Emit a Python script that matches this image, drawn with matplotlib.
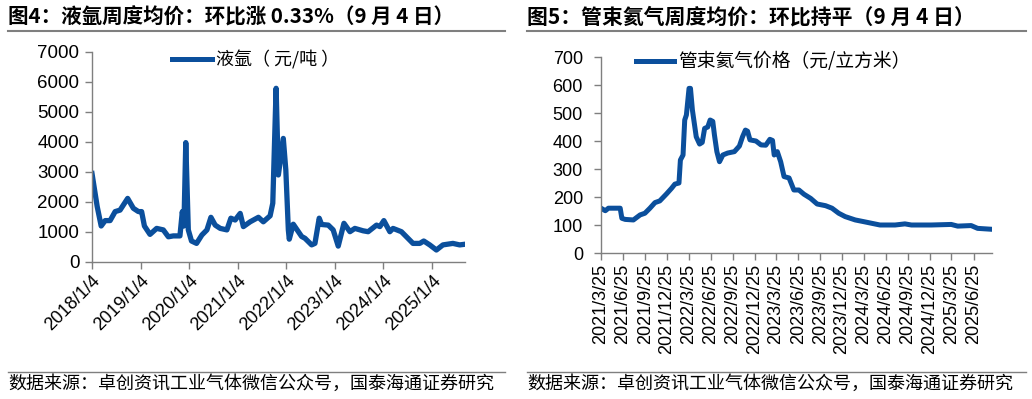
import matplotlib.pyplot as plt
import matplotlib.dates as mdates
from matplotlib.ticker import FuncFormatter
from matplotlib.lines import Line2D
import numpy as np
import pandas as pd

plt.rcParams['font.family'] = ['Liberation Sans', 'Noto Sans CJK SC', 'DejaVu Sans']

# liquid argon weekly average price (yuan/ton)
argon_dates = ['2018-01-04', '2018-02-12', '2018-03-14', '2018-04-13', '2018-05-20', '2018-06-27',
               '2018-08-03', '2018-09-29', '2018-11-11', '2018-12-19', '2019-01-12', '2019-02-02',
               '2019-03-16', '2019-05-05', '2019-06-24', '2019-08-01', '2019-09-07', '2019-10-27',
               '2019-11-14', '2019-11-26', '2019-12-10', '2019-12-29', '2020-01-22', '2020-02-29',
               '2020-04-09', '2020-05-17', '2020-06-16', '2020-07-18', '2020-08-25', '2020-10-14',
               '2020-11-13', '2020-12-15', '2021-01-22', '2021-02-15', '2021-04-07', '2021-06-08',
               '2021-07-15', '2021-09-04', '2021-09-24', '2021-10-19', '2021-11-05', '2021-12-12',
               '2021-12-31', '2022-01-19', '2022-01-26', '2022-02-25', '2022-04-29', '2022-05-24',
               '2022-07-13', '2022-08-07', '2022-09-08', '2022-09-26', '2022-11-15', '2022-12-22',
               '2023-01-29', '2023-03-13', '2023-04-27', '2023-06-03', '2023-08-04', '2023-09-11',
               '2023-11-13', '2023-12-08', '2024-01-07', '2024-02-21', '2024-03-16', '2024-05-18',
               '2024-06-25', '2024-08-13', '2024-10-03', '2024-11-02', '2024-12-17', '2025-02-05',
               '2025-03-26', '2025-06-09', '2025-07-30', '2025-09-04']
argon_price = [2950, 1850, 1200, 1380, 1380, 1680,
               1730, 2120, 1790, 1680, 1680, 1200,
               920, 1120, 1070, 840, 870, 870,
               1680, 1200, 3980, 1070, 700, 620,
               900, 1070, 1490, 1230, 1120, 1070,
               1460, 1400, 1620, 1180, 1340, 1490,
               1340, 1540, 1960, 5790, 2900, 4120,
               3070, 1070, 760, 1260, 850, 790,
               570, 620, 1460, 1250, 1230, 1070,
               530, 1290, 1010, 1120, 1040, 1010,
               1230, 1180, 1380, 1010, 1120, 1010,
               840, 620, 620, 700, 570, 400,
               570, 620, 570, 590]

# tube-trailer helium weekly average price (yuan/m3)
helium_dates = ['2021-03-25', '2021-04-12', '2021-04-25', '2021-06-13', '2021-06-20', '2021-07-04',
                '2021-08-07', '2021-09-04', '2021-09-24', '2021-10-15', '2021-11-05', '2021-11-25',
                '2021-12-23', '2022-01-13', '2022-01-27', '2022-02-13', '2022-02-19', '2022-03-02',
                '2022-03-09', '2022-03-16', '2022-03-27', '2022-04-02', '2022-04-10', '2022-04-26',
                '2022-05-10', '2022-05-21', '2022-05-31', '2022-06-13', '2022-06-23', '2022-07-04',
                '2022-07-11', '2022-07-21', '2022-08-01', '2022-08-15', '2022-09-04', '2022-10-02',
                '2022-10-23', '2022-11-05', '2022-11-17', '2022-11-26', '2022-12-06', '2022-12-31',
                '2023-01-21', '2023-02-10', '2023-02-27', '2023-03-10', '2023-03-17', '2023-03-30',
                '2023-04-13', '2023-04-27', '2023-05-18', '2023-06-07', '2023-06-28', '2023-07-19',
                '2023-08-16', '2023-09-12', '2023-10-17', '2023-11-13', '2023-12-11', '2024-01-07',
                '2024-02-18', '2024-03-24', '2024-04-27', '2024-05-31', '2024-08-02', '2024-09-12',
                '2024-10-09', '2024-12-31', '2025-03-24', '2025-04-20', '2025-06-15', '2025-07-12',
                '2025-09-04']
helium_price = [160, 151, 160, 160, 124, 120,
                118, 136, 142, 160, 180, 186,
                211, 231, 246, 250, 332, 350,
                475, 493, 588, 588, 511, 415,
                389, 395, 445, 450, 475, 470,
                421, 362, 326, 350, 357, 362,
                382, 415, 439, 435, 404, 400,
                386, 385, 406, 402, 350, 362,
                326, 273, 268, 225, 225, 210,
                195, 175, 169, 160, 142, 130,
                118, 112, 106, 100, 100, 104,
                100, 100, 102, 96, 98, 88,
                85]

line_color = '#0b4f9c'
axis_color = '#7f7f7f'
cjk = ['Noto Sans CJK SC', 'DejaVu Sans']

fig = plt.figure(figsize=(10.32, 3.99), dpi=100)


def px(x0, y_top, x1, y_bot):
    # pixel box -> figure fraction rect
    return [x0 / 1032, 1 - y_bot / 399, (x1 - x0) / 1032, (y_bot - y_top) / 399]


def style_axes(ax):
    for s in ['top', 'right']:
        ax.spines[s].set_visible(False)
    for s in ['left', 'bottom']:
        ax.spines[s].set_color(axis_color)
        ax.spines[s].set_linewidth(1.0)
    ax.tick_params(axis='both', colors=axis_color, length=5, width=1.0, labelcolor='black')


def date_label(x, pos):
    d = mdates.num2date(x)
    return f'{d.year}/{d.month}/{d.day}'


# ---- left: liquid argon
ax1 = fig.add_axes(px(92, 52, 465, 262))
ax1.plot(pd.to_datetime(argon_dates), argon_price, color=line_color, lw=3.8, solid_joinstyle='round')
ax1.set_ylim(0, 7000)
ax1.set_yticks(np.arange(0, 7001, 1000))
ax1.set_xlim(pd.Timestamp('2018-01-04'), pd.Timestamp('2025-09-08'))
ax1.xaxis.set_major_locator(mdates.MonthLocator(bymonth=1, bymonthday=4))
ax1.xaxis.set_major_formatter(FuncFormatter(date_label))
style_axes(ax1)
ax1.tick_params(axis='y', labelsize=13.5, pad=4)
ax1.tick_params(axis='x', labelsize=13, pad=2)
for lab in ax1.get_xticklabels():
    lab.set_rotation(45)
    lab.set_ha('right')
    lab.set_rotation_mode('anchor')

# ---- right: helium
ax2 = fig.add_axes(px(601, 57, 992, 253))
ax2.plot(pd.to_datetime(helium_dates), helium_price, color=line_color, lw=3.6, solid_joinstyle='round')
ax2.set_ylim(0, 700)
ax2.set_yticks(np.arange(0, 701, 100))
ax2.set_xlim(pd.Timestamp('2021-03-25'), pd.Timestamp('2025-09-10'))
ax2.xaxis.set_major_locator(mdates.MonthLocator(bymonth=[3, 6, 9, 12], bymonthday=25))
ax2.xaxis.set_major_formatter(FuncFormatter(date_label))
style_axes(ax2)
ax2.tick_params(axis='y', labelsize=13, pad=8)
ax2.tick_params(axis='x', labelsize=13, pad=3, rotation=90)

# legends
h = [Line2D([], [], color=line_color, lw=3.6)]
fig.legend(h, ['液氩（ 元/吨 ）'], loc='center left', bbox_to_anchor=(172 / 1032, 1 - 60 / 399),
           frameon=False, borderpad=0, borderaxespad=0, handlelength=2.2, handletextpad=0.25,
           prop={'family': cjk, 'size': 13})
fig.legend(h, ['管束氦气价格（元/立方米）'], loc='center left', bbox_to_anchor=(636 / 1032, 1 - 62 / 399),
           frameon=False, borderpad=0, borderaxespad=0, handlelength=2.0, handletextpad=0.25,
           prop={'family': cjk, 'size': 13.5})

# titles, rules and source notes
fig.text(8 / 1032, 1 - 17 / 399, '图4：液氩周度均价：环比涨 0.33%（9 月 4 日）', family=cjk,
         fontsize=14.8, fontweight='bold', va='center', ha='left')
fig.text(527 / 1032, 1 - 17 / 399, '图5：管束氦气周度均价：环比持平（9 月 4 日）', family=cjk,
         fontsize=15, fontweight='bold', va='center', ha='left')
for x0, x1 in [(8, 505), (527, 1026)]:
    fig.add_artist(Line2D([x0 / 1032, x1 / 1032], [1 - 31 / 399] * 2, color=axis_color, lw=1.5))
    fig.add_artist(Line2D([x0 / 1032, x1 / 1032], [1 - 372 / 399] * 2, color=axis_color, lw=1.0))
    fig.text(x0 / 1032, 1 - 384 / 399, '数据来源：卓创资讯工业气体微信公众号，国泰海通证券研究', family=cjk,
             fontsize=13, va='center', ha='left')

plt.savefig('out.png', dpi=100)
